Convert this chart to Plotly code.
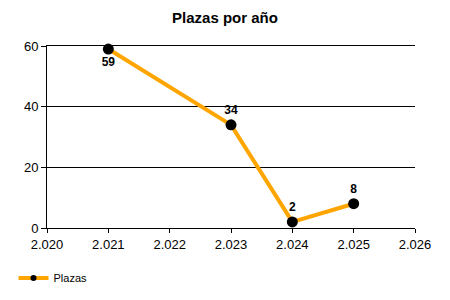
import plotly.graph_objects as go

years = [2021, 2023, 2024, 2025]
plazas = [59, 34, 2, 8]
label_pos = ["bottom center", "top center", "top center", "top center"]
x_ticks = [2020, 2021, 2022, 2023, 2024, 2025, 2026]
y_ticks = [0, 20, 40, 60]

fig = go.Figure()
fig.add_trace(go.Scatter(
    x=years, y=plazas, name="Plazas", showlegend=False,
    mode="lines+markers+text",
    line=dict(color="#FFA500", width=4),
    marker=dict(color="black", size=11),
    text=[str(v) for v in plazas],
    textposition=label_pos,
    textfont=dict(family="Liberation Sans, Arial", size=12, color="black", weight="bold"),
    cliponaxis=False,
))
# legend entry with smaller marker
fig.add_trace(go.Scatter(
    x=[None], y=[None], name="Plazas", mode="lines+markers",
    line=dict(color="#FFA500", width=4),
    marker=dict(color="black", size=6),
))

fig.update_layout(
    width=450, height=300,
    margin=dict(l=47, r=35, t=46, b=72),
    paper_bgcolor="white", plot_bgcolor="white",
    separators=",.",
    font=dict(family="Liberation Sans, Arial", size=12, color="black"),
    title=dict(text="<b>Plazas por año</b>", x=0.5, xanchor="center",
               y=1 - 18/300, yanchor="middle", font=dict(size=15, color="black")),
    showlegend=True,
    legend=dict(xref="container", yref="container", x=0.03, y=22/300,
                xanchor="left", yanchor="middle", orientation="h",
                font=dict(size=11), itemwidth=30),
    xaxis=dict(range=[2020, 2026], tickvals=x_ticks, tickformat=",d",
               showgrid=False, zeroline=False, showline=True, linecolor="black",
               linewidth=1, mirror=True, ticks="outside", ticklen=4, tickcolor="black",
               tickfont=dict(size=13)),
    yaxis=dict(range=[0, 60], tickvals=y_ticks, showgrid=True, gridcolor="black",
               gridwidth=1, zeroline=False, showline=True, linecolor="black",
               linewidth=1, ticks="outside", ticklen=5, tickcolor="black",
               tickfont=dict(size=13)),
)

fig.write_html("out.html")
